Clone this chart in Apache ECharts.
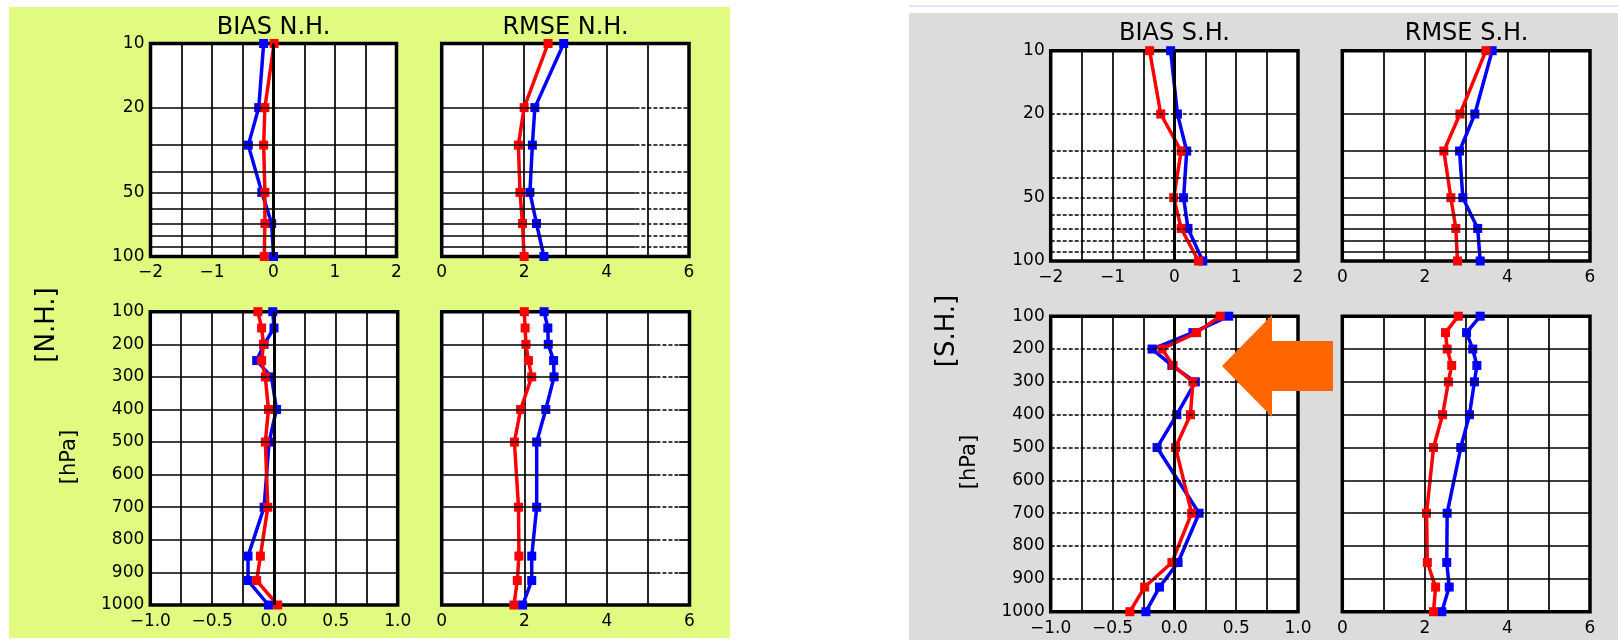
<!DOCTYPE html>
<html lang="en" style="height: 100%">
<head>
  <meta charset="utf-8">
</head>
<body style="height: 100%; margin: 0; background: #ffffff">
  <div id="container" style="width: 1618px; height: 640px"></div>

  <script type="text/javascript" src="https://cdn.jsdelivr.net/npm/echarts@6/dist/echarts.min.js"></script>
  <script type="text/javascript">
// pressure levels (hPa)
var levelsTop = [10, 20, 30, 50, 70, 100];
var levelsBot = [100, 150, 200, 250, 300, 400, 500, 700, 850, 925, 1000];
var gridLevelsTop = [20, 30, 40, 50, 60, 70, 80, 90];
var gridLevelsBot = [200, 300, 400, 500, 600, 700, 800, 900];
var yLabelsTop = [10, 20, 50, 100];

// N.H.
var nhBiasTopBlue = [-0.16, -0.24, -0.41, -0.19, -0.03, 0.0];
var nhBiasTopRed  = [0.01, -0.14, -0.16, -0.14, -0.14, -0.15];
var nhRmseTopBlue = [2.96, 2.26, 2.20, 2.14, 2.30, 2.48];
var nhRmseTopRed  = [2.58, 2.00, 1.86, 1.90, 1.96, 2.00];
var nhBiasBotBlue = [-0.01, 0.0, -0.08, -0.14, -0.02, 0.02, -0.04, -0.08, -0.21, -0.21, -0.045];
var nhBiasBotRed  = [-0.13, -0.10, -0.085, -0.10, -0.07, -0.045, -0.07, -0.05, -0.11, -0.14, 0.03];
var nhRmseBotBlue = [2.48, 2.57, 2.58, 2.71, 2.72, 2.52, 2.30, 2.30, 2.18, 2.18, 1.96];
var nhRmseBotRed  = [2.00, 2.02, 2.04, 2.10, 2.18, 1.91, 1.76, 1.86, 1.87, 1.83, 1.75];

// S.H.
var shBiasTopBlue = [-0.06, 0.05, 0.20, 0.15, 0.22, 0.46];
var shBiasTopRed  = [-0.40, -0.22, 0.11, -0.01, 0.11, 0.39];
var shRmseTopBlue = [3.63, 3.21, 2.84, 2.92, 3.28, 3.34];
var shRmseTopRed  = [3.48, 2.85, 2.46, 2.63, 2.75, 2.79];
var shBiasBotBlue = [0.44, 0.15, -0.18, -0.02, 0.17, 0.02, -0.14, 0.20, 0.03, -0.12, -0.23];
var shBiasBotRed  = [0.37, 0.18, -0.10, -0.01, 0.15, 0.13, 0.01, 0.14, -0.02, -0.24, -0.36];
var shRmseBotBlue = [3.34, 3.01, 3.16, 3.26, 3.20, 3.08, 2.87, 2.54, 2.53, 2.59, 2.41];
var shRmseBotRed  = [2.81, 2.50, 2.54, 2.65, 2.57, 2.43, 2.21, 2.04, 2.06, 2.26, 2.21];

var titles = ['BIAS N.H.', 'RMSE N.H.', 'BIAS S.H.', 'RMSE S.H.'];

var FONT = 'DejaVu Sans';

function minus(s) { return s.replace('-', '\u2212'); }
function isStep(v, s) { return Math.abs(v / s - Math.round(v / s)) < 1e-6; }
var fmtBiasTop = function (v) { return isStep(v, 1) ? minus(String(v)) : ''; };
var fmtBiasBot = function (v) { return isStep(v, 0.5) ? minus(v.toFixed(1)) : ''; };
var fmtRmse = function (v) { return isStep(v, 2) ? String(v) : ''; };
var fmtPlain = function (v) { return String(v); };

// bias panels carry the pressure labels, rmse panels do not
var panels = [
  { rect: [150.5, 43.5, 246, 213], top: true, x: [-2, 2, 0.5], fmt: fmtBiasTop, zero: true, ylab: true, blue: nhBiasTopBlue, red: nhBiasTopRed },
  { rect: [441.7, 43.5, 247.3, 213], top: true, x: [0, 6, 1], fmt: fmtRmse, dash: [4.7, 6], blue: nhRmseTopBlue, red: nhRmseTopRed },
  { rect: [150.3, 311.7, 247.4, 293.3], top: false, x: [-1, 1, 0.25], fmt: fmtBiasBot, zero: true, ylab: true, blue: nhBiasBotBlue, red: nhBiasBotRed },
  { rect: [441.7, 311.7, 247.8, 293.3], top: false, x: [0, 6, 1], fmt: fmtRmse, dash: [5.2, 5.75], blue: nhRmseBotBlue, red: nhRmseBotRed },
  { rect: [1050.7, 50.7, 247.3, 210.3], top: true, x: [-2, 2, 0.5], fmt: fmtBiasTop, zero: true, ylab: true, dash: [-2, 0.43], blue: shBiasTopBlue, red: shBiasTopRed },
  { rect: [1342.3, 50.7, 247.7, 210.3], top: true, x: [0, 6, 1], fmt: fmtRmse, blue: shRmseTopBlue, red: shRmseTopRed },
  { rect: [1050.7, 316.2, 247.3, 295.5], top: false, x: [-1, 1, 0.25], fmt: fmtBiasBot, zero: true, ylab: true, dash: [-1, 0.45], blue: shBiasBotBlue, red: shBiasBotRed },
  { rect: [1342.3, 316.2, 247.7, 295.5], top: false, x: [0, 6, 1], fmt: fmtRmse, blue: shRmseBotBlue, red: shRmseBotRed }
];

var solidStyle = { color: '#000', width: 1.7, type: 'solid' };
var dashStyle = { color: '#000', width: 1.5, type: [4, 2] };

function gridLines(p) {
  var levels = p.top ? gridLevelsTop : gridLevelsBot;
  var xmin = p.x[0], xmax = p.x[1];
  var out = [];
  levels.forEach(function (lv) {
    if (p.dash) {
      if (p.dash[0] > xmin) out.push([{ coord: [xmin, lv], lineStyle: solidStyle }, { coord: [p.dash[0], lv] }]);
      out.push([{ coord: [p.dash[0], lv], lineStyle: dashStyle }, { coord: [p.dash[1], lv] }]);
      if (p.dash[1] < xmax) out.push([{ coord: [p.dash[1], lv], lineStyle: solidStyle }, { coord: [xmax, lv] }]);
    } else {
      out.push([{ coord: [xmin, lv], lineStyle: solidStyle }, { coord: [xmax, lv] }]);
    }
  });
  if (p.zero) out.push({ xAxis: 0, lineStyle: { color: '#000', width: 3, type: 'solid' } });
  return out;
}

function pairs(vals, levels) {
  return vals.map(function (v, i) { return [v, levels[i]]; });
}

var labelStyle = { color: '#000', fontSize: 17, fontFamily: FONT };

var grid = [], xAxis = [], yAxis = [], series = [];
panels.forEach(function (p, i) {
  grid.push({
    left: p.rect[0], top: p.rect[1], width: p.rect[2], height: p.rect[3],
    show: true, backgroundColor: '#fff', borderColor: '#000', borderWidth: 3.5
  });
  xAxis.push({
    type: 'value', gridIndex: i, min: p.x[0], max: p.x[1], interval: p.x[2],
    axisLine: { show: false }, axisTick: { show: false },
    splitLine: { show: true, lineStyle: solidStyle },
    axisLabel: Object.assign({ formatter: p.fmt, margin: 8 }, labelStyle)
  });
  if (p.top) {
    yAxis.push({
      type: 'log', logBase: 10, gridIndex: i, min: 10, max: 100, inverse: true,
      axisLine: { show: false }, axisTick: { show: false }, splitLine: { show: false },
      axisLabel: Object.assign({ show: !!p.ylab, customValues: yLabelsTop, formatter: fmtPlain, margin: 6 }, labelStyle)
    });
  } else {
    yAxis.push({
      type: 'value', gridIndex: i, min: 100, max: 1000, interval: 100, inverse: true,
      axisLine: { show: false }, axisTick: { show: false }, splitLine: { show: false },
      axisLabel: Object.assign({ show: !!p.ylab, formatter: fmtPlain, margin: 6 }, labelStyle)
    });
  }
  var lv = p.top ? levelsTop : levelsBot;
  series.push({
    type: 'line', xAxisIndex: i, yAxisIndex: i, data: [], z: 1, silent: true,
    markLine: { silent: true, symbol: ['none', 'none'], animation: false, label: { show: false }, data: gridLines(p) }
  });
  series.push({
    type: 'line', xAxisIndex: i, yAxisIndex: i, data: pairs(p.blue, lv), z: 3,
    color: '#0000ff', lineStyle: { width: 3.5, color: '#0000ff' },
    symbol: 'rect', symbolSize: 9, itemStyle: { color: '#0000ff' }
  });
  series.push({
    type: 'line', xAxisIndex: i, yAxisIndex: i, data: pairs(p.red, lv), z: 4,
    color: '#ff0000', lineStyle: { width: 3.5, color: '#ff0000' },
    symbol: 'rect', symbolSize: 9, itemStyle: { color: '#ff0000' }
  });
});

var titleStyle = { color: '#000', fontSize: 24, fontWeight: 'normal', fontFamily: FONT };
var title = [
  { text: titles[0], left: 273.5, top: 16, textAlign: 'center', padding: 0, textStyle: titleStyle },
  { text: titles[1], left: 565.5, top: 16, textAlign: 'center', padding: 0, textStyle: titleStyle },
  { text: titles[2], left: 1174.5, top: 22, textAlign: 'center', padding: 0, textStyle: titleStyle },
  { text: titles[3], left: 1466.5, top: 22, textAlign: 'center', padding: 0, textStyle: titleStyle }
];

function vtext(txt, x, y, size) {
  return {
    type: 'text', x: x, y: y, rotation: Math.PI / 2, z: 10,
    style: { text: txt, fill: '#000', font: size + 'px "' + FONT + '"', textAlign: 'center', textVerticalAlign: 'middle' }
  };
}

var graphic = [
  { type: 'rect', shape: { x: 9, y: 7, width: 721, height: 631 }, style: { fill: '#e1fa80' }, z: -10 },
  { type: 'rect', shape: { x: 909, y: 5, width: 709, height: 2 }, style: { fill: '#e4e4fb' }, z: -10 },
  { type: 'rect', shape: { x: 909, y: 13, width: 709, height: 627 }, style: { fill: '#dcdcdc' }, z: -10 },
  vtext('[N.H.]', 47, 325, 26),
  vtext('[hPa]', 70, 457, 21),
  vtext('[S.H.]', 947, 331, 26),
  vtext('[hPa]', 970, 462, 21),
  {
    type: 'polygon', z: 20,
    shape: { points: [[1222, 366], [1272, 315], [1272, 341], [1333, 341], [1333, 391], [1272, 391], [1272, 417]] },
    style: { fill: '#ff6600' }
  }
];

var myChart = echarts.init(document.getElementById('container'), null, { renderer: 'canvas' });
myChart.setOption({
  animation: false,
  backgroundColor: '#ffffff',
  title: title,
  graphic: graphic,
  grid: grid,
  xAxis: xAxis,
  yAxis: yAxis,
  series: series
});
  </script>
</body>
</html>
